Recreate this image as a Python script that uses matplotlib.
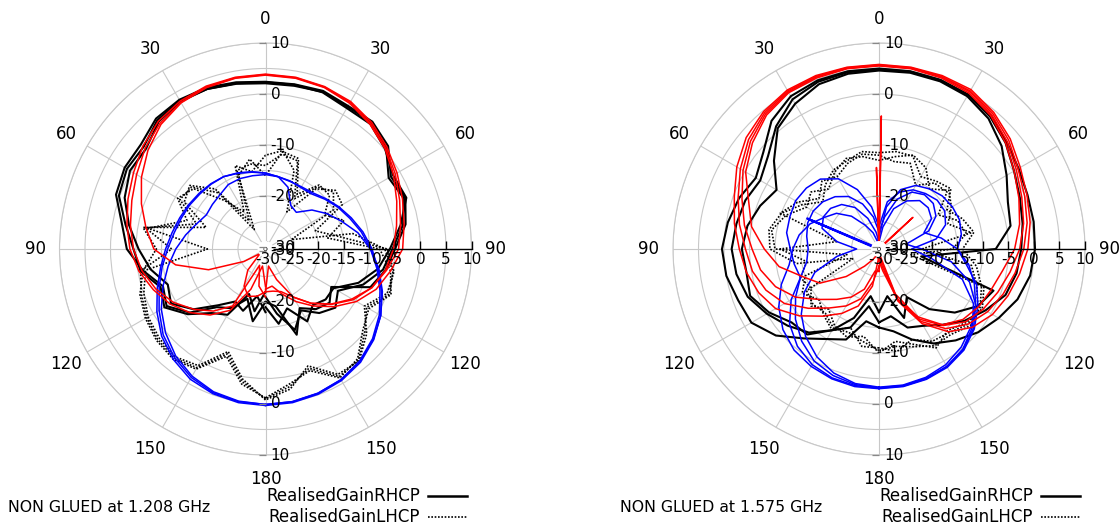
import numpy as np
import matplotlib
matplotlib.use("Agg")
import matplotlib.pyplot as plt
from matplotlib.patches import Circle
from matplotlib.lines import Line2D
from matplotlib.transforms import offset_copy

plt.rcParams['font.family'] = ['DejaVu Sans']

# Elevation angle (deg), negative = left half of the polar plot
ANGLES_DEG = list(range(-180, 181, 10))

# ---------------- 1.208 GHz (gain in dB) ----------------
rhcp_meas_1208_a = [-20, -16, -20, -17, -15.5, -11, -8, -9, -6, -3.2, -1.8, 0.8, 1.5, 1.5, 3.0, 3.4, 3.3, 2.8, 2.4,
                    2.4, 2.6, 2.0, 2.2, 1.0, -2.0, -1.2, -2.5, -5.0, -6.5, -8.5, -15.5, -14, -15, -17, -12.5, -19, -20]
rhcp_meas_1208_b = [-22, -18, -21, -15.5, -14, -10.5, -7.5, -8.5, -5.5, -4.5, -2.5, 0.2, 1.0, 0.8, 2.6, 3.2, 3.0, 2.5, 2.1,
                    2.1, 2.4, 1.8, 2.0, 0.5, -2.5, -1.5, -3.0, -5.5, -7.0, -10.0, -14.0, -12.5, -14.0, -16.5, -13.5, -17.5, -21]
rhcp_meas_1208_c = [-18, -21, -17.5, -18.5, -16, -12, -9, -10, -7.5, -5.5, -3.2, -1.0, 0.3, 0.2, 2.2, 3.0, 3.0, 2.6, 2.3,
                    2.3, 2.3, 1.5, 1.6, 0.2, -1.5, -1.0, -3.5, -6.0, -8.0, -11.0, -15.0, -15.0, -16.0, -14.0, -18.0, -15.5, -19]

lhcp_meas_1208_a = [-1, -4, -8.5, -3.5, -2.5, -2.8, -3.5, -4.5, -5.5, -12, -6.5, -16, -11, -11.5, -16, -26, -14, -13.5, -14,
                    -11.5, -12, -19, -14.5, -13, -15, -25, -13, -7, -5, -4.5, -7.5, -5, -2, -1.5, -5.5, -3, -1]
lhcp_meas_1208_b = [-0.8, -4.5, -9, -4, -2.8, -3.2, -3.8, -5, -6.5, -19, -7, -14, -10.5, -12, -18, -22, -13, -15, -12,
                    -10.8, -14, -22, -15, -12.5, -13, -20, -16, -6.5, -4.8, -5, -8, -4.5, -1.8, -2, -6, -2.5, -0.8]
lhcp_meas_1208_c = [-1.2, -3.5, -8, -3.2, -2.2, -2.5, -3.2, -4.2, -6, -9, -6, -18, -12, -11, -15, -24, -15, -12.5, -16,
                    -11, -11.5, -18, -14, -14, -17, -14, -18, -8, -5.5, -4.2, -7, -5.5, -2.3, -1.2, -5, -3.5, -1.2]

rhcp_sim_1208_a = [-22, -21, -20.5, -22, -25, -29, -25.5, -18.5, -12.5, -8.5, -6.6, -4.5, -2.3, -0.3, 1.5, 2.7, 3.3, 3.6, 3.7,
                   3.6, 3.3, 2.6, 1.5, 0.2, -1.4, -3.0, -4.3, -5.3, -6.5, -8.2, -10.5, -13.5, -16.5, -19.5, -21.5, -22, -22]
rhcp_sim_1208_b = [-21, -23, -27, -17.5, -14.5, -12, -9.5, -7.5, -5.8, -4.5, -3.5, -2.5, -1.2, 0.4, 1.8, 2.8, 3.4, 3.7, 3.8,
                   3.7, 3.4, 2.8, 1.7, 0.4, -1.0, -2.4, -3.5, -4.3, -6.3, -8.2, -10.8, -13.6, -16.5, -19.5, -24, -27, -22]
rhcp_sim_1208_c = [-23, -27, -22, -16.5, -13.5, -11, -8.8, -7.0, -5.2, -3.8, -2.8, -1.7, -0.5, 1.0, 2.3, 3.1, 3.6, 3.8, 3.9,
                   3.8, 3.5, 3.0, 2.0, 0.7, -0.6, -1.8, -2.8, -3.5, -5.5, -7.3, -9.8, -12.8, -15.8, -18.5, -21, -23, -22.5]

lhcp_sim_1208_a = [0.1, 0, -0.4, -1.3, -2.6, -4.2, -6.3, -8.2, -9.8, -11.2, -12.2, -12.8, -13.2, -13.6, -13.8, -14.0, -14.5, -15.0, -15.5,
                   -16.0, -17.5, -20.5, -21.0, -18.5, -16.5, -14.5, -12.0, -9.8, -7.8, -6.0, -4.3, -2.8, -1.6, -0.8, -0.3, 0.0, 0.1]
lhcp_sim_1208_b = [0.3, 0.2, -0.2, -0.9, -2.2, -3.8, -5.8, -7.8, -9.5, -10.8, -11.8, -12.5, -13.0, -13.4, -13.7, -14.0, -14.6, -15.1, -15.5,
                   -16.0, -16.3, -16.3, -16.0, -15.0, -13.8, -12.5, -11.0, -9.5, -8.0, -6.2, -4.3, -2.7, -1.4, -0.6, -0.1, 0.2, 0.3]
lhcp_sim_1208_c = [0.1, -0.1, -0.6, -1.6, -3.0, -4.8, -6.8, -9.0, -11.0, -12.8, -14.5, -16.0, -17.0, -16.8, -16.5, -15.8, -15.7, -15.8, -15.8,
                   -16.0, -16.2, -16.5, -16.3, -15.2, -14.0, -12.8, -11.3, -9.8, -8.2, -6.5, -4.6, -3.0, -1.7, -0.8, -0.3, 0.0, 0.1]

# ---------------- 1.575 GHz (gain in dB) ----------------
rhcp_meas_1575_a = [-15, -16, -11.5, -10, -7.5, -4, -1.5, -1.0, 0, 0.4, -0.3, -1.2, -2.5, -0.8, 2.4, 4.2, 4.8, 5.0, 5.0,
                    5.0, 4.9, 4.6, 3.7, 2.3, 1.2, 0.6, 0.4, 0.2, -0.3, -1.5, -3.3, -5, -7, -9, -11.5, -14, -15]
rhcp_meas_1575_b = [-16, -19, -14, -12, -9, -7, -5, -3, -2, -1.5, -2, -2.5, -3.5, -2, 1, 3.5, 4.5, 4.8, 4.8,
                    4.9, 4.8, 4.5, 3.5, 2.0, 0.2, -1.0, -1.8, -2.5, -3, -4, -6.3, -8.5, -11, -13, -14, -17, -16]
rhcp_meas_1575_c = [-18, -21, -16, -12, -8.5, -8, -5.5, -3.5, -4, -3.5, -4.2, -5.6, -7.2, -3.5, 0.5, 2.5, 4.0, 4.5, 4.6,
                    4.7, 4.6, 4.2, 3.0, 1.0, -1.5, -3.5, -4.2, -7.5, -22, -6.5, -8, -11, -15, -19.5, -16, -21, -18]

lhcp_meas_1575_a = [-10.5, -12, -13, -12.5, -14, -13.5, -14, -25, -14, -9, -8.5, -10, -13, -16, -14, -12.5, -12, -11, -11.5,
                    -11, -11, -14, -13, -12, -15, -13, -11.5, -14, -11, -9, -7.5, -7, -8.5, -8.5, -10, -11, -10.5]
lhcp_meas_1575_b = [-11, -11, -14, -12, -13.5, -15, -13, -15, -24, -10, -9, -11, -14, -13, -15, -13, -11.5, -12, -13,
                    -12, -10.8, -12, -15, -12.5, -14, -16, -12, -22, -12, -10, -8, -7.5, -9, -9.5, -11.5, -10, -11]
lhcp_meas_1575_c = [-10, -13, -12, -13, -15, -13, -15, -14, -16, -11, -22, -9.8, -12, -15, -13, -14, -12.5, -11.5, -12,
                    -13, -12.5, -16, -13.5, -13, -17, -14, -13, -16, -24, -8.5, -7, -8, -9.5, -8, -10.5, -12, -10]

rhcp_sim_1575_a = [-29, -23, -18.5, -15.8, -13.2, -10, -7, -5.3, -4, -3, -1.6, -0.2, 1.8, 3.6, 4.8, 5.6, 5.8, 5.8, 5.8,
                   5.8, 5.8, 5.7, 4.6, 3.2, 1.6, 0.5, -0.3, -1.2, -2.4, -3.5, -4.7, -6.5, -9.2, -13.5, -19.5, -27, -29]
rhcp_sim_1575_b = [-27, -24, -20, -17.5, -15.3, -12.3, -9, -6.8, -5.2, -4.2, -2.6, -1.0, 1.0, 3.0, 4.5, 5.4, 5.6, 5.7, 5.7,
                   5.7, 5.6, 5.4, 4.3, 2.8, 1.1, 0, -0.9, -2.0, -3.3, -4.5, -5.8, -7.5, -10, -14, -20, -28, -27]
rhcp_sim_1575_c = [-26, -26, -22, -19.5, -17.5, -15, -11.5, -8.8, -6.8, -5.5, -3.6, -1.8, 0.4, 2.5, 4.2, 5.2, 5.5, 5.6, 5.6,
                   5.6, 5.5, 5.2, 4.0, 2.4, 0.7, -0.6, -1.6, -2.8, -4.3, -5.6, -6.8, -8.2, -10.8, -14.5, -21, -29, -26]
rhcp_sim_1575_d = [-28, -29, -29, -28, -26, -22, -17, -14.5, -10.5, -7.9, -5.0, -3.2, -0.2, 2.0, 3.9, 5.0, 5.3, 5.5, 5.5,
                   5.5, 5.3, 4.9, 3.7, 2.0, 0.2, -1.2, -2.4, -3.8, -5.8, -7.0, -7.8, -8.9, -11, -15, -20, -26, -28]

lhcp_sim_1575_a = [-3.1, -3.2, -3.5, -4.2, -5.5, -7.5, -10.5, -14, -13.5, -13, -12, -11.8, -11.5, -11.8, -12.5, -14.5, -18, -22, -26,
                   -21, -18.5, -17, -16.2, -15.5, -15.5, -16.5, -19, -24, -20, -13, -9, -6.5, -4.8, -3.8, -3.3, -3.1, -3.1]
lhcp_sim_1575_b = [-3, -3, -3.3, -3.8, -4.5, -5.8, -7.7, -10, -12.5, -13.5, -14.5, -16, -18, -19.5, -22, -25, -27, -29, -28,
                   -22, -18, -16, -15, -14.2, -13.8, -13.6, -14, -15, -13, -10, -8, -6, -4.5, -3.6, -3.2, -3, -3]
lhcp_sim_1575_c = [-3.2, -3.4, -4, -5, -6.8, -9, -11.5, -14, -16, -16.5, -16, -15.5, -15.5, -16, -17, -18.5, -21, -24, -27,
                   -24, -20, -17.5, -16.5, -16.5, -17.5, -20, -25, -22, -16, -11.5, -8.5, -6.2, -4.7, -3.8, -3.4, -3.2, -3.2]
lhcp_sim_1575_d = [-3.3, -3.6, -4.5, -6, -8, -10.5, -13.5, -17, -22, -26, -22, -18.5, -17.8, -18, -19, -21, -24, -27, -29,
                   -26, -22, -19.5, -18, -17.8, -18.5, -21, -18, -15, -12.5, -10.5, -8.5, -6.8, -5.3, -4.2, -3.6, -3.3, -3.3]

# narrow lobes close to broadside at 1.575 GHz
rhcp_sim_1575_spike1_deg = [-0.5, 1.0, 2.0]
rhcp_sim_1575_spike1_val = [-29, -4.3, -29]
rhcp_sim_1575_spike2_deg = [-3.0, -1.8, -0.8]
rhcp_sim_1575_spike2_val = [-29, -14.4, -29]
rhcp_sim_1575_spike3_deg = [43.0, 47.0, 49.0]
rhcp_sim_1575_spike3_val = [-29, -21.3, -29]
lhcp_sim_1575_spike_deg = [-70.0, -67.0, -65.0]
lhcp_sim_1575_spike_val = [-29, -15.1, -29]

RADIAL_LABELS = [10, 0, -10, -20, -30]
AXIS_TICKS = list(range(-30, 11, 5))
ANGLE_LABELS = [0, 30, 60, 90, 120, 150, 180, -30, -60, -90, -120, -150]

FIG_W, FIG_H = 1120, 526
R_MIN, R_MAX, R_ORIGIN = -30, 10, -30.39
RADIUS_PX = 206
GRID = '#c8c8c8'
FS = 11
FS_ANGLE = 12
FS_LEGEND = 12
FS_TITLE = 11.3
RED = '#ff0000'
BLUE = '#0000ff'

fig = plt.figure(figsize=(FIG_W / 100, FIG_H / 100), dpi=100)


def make_polar(cx, cy):
    ax = fig.add_axes([(cx - RADIUS_PX) / FIG_W, (FIG_H - cy - RADIUS_PX) / FIG_H,
                       2 * RADIUS_PX / FIG_W, 2 * RADIUS_PX / FIG_H], projection='polar')
    ax.set_theta_zero_location('N')
    ax.set_theta_direction(-1)
    ax.set_ylim(R_MIN, R_MAX)
    ax.set_rorigin(R_ORIGIN)
    ax.set_xticks(np.deg2rad(np.arange(0, 360, 30)))
    ax.set_xticklabels([''] * 12)
    ax.set_yticks(np.arange(-25, 11, 5))
    ax.set_yticklabels([''] * 8)
    ax.grid(True, color=GRID, lw=0.8)
    ax.spines['polar'].set_color(GRID)
    ax.spines['polar'].set_linewidth(0.8)
    ax.tick_params(length=0)

    for deg in ANGLE_LABELS:
        ax.text(np.deg2rad(deg), 14.8, str(abs(deg)), ha='center', va='center',
                fontsize=FS_ANGLE, clip_on=False)

    # dB scale along the 0/180 line
    right = offset_copy(ax.transData, fig=fig, x=5, y=0, units='dots')
    for theta in (0.0, np.pi):
        for v in RADIAL_LABELS:
            ax.text(theta, v, str(v), transform=right, ha='left', va='center',
                    fontsize=FS, zorder=7, clip_on=False)
            ax.plot([theta], [v], marker=0, ms=5, mew=0.9, color='#888888', zorder=7, clip_on=False)

    # linear dB axis along the 90 deg direction
    ax.plot([np.pi / 2, np.pi / 2], [R_MIN, R_MAX], color='black', lw=1.0, zorder=5, clip_on=False)
    below = offset_copy(ax.transData, fig=fig, x=0, y=-3, units='dots')
    for v in AXIS_TICKS:
        ax.plot([np.pi / 2], [v], marker=2, ms=6, mew=1.0, color='black', zorder=5, clip_on=False)
        ax.text(np.pi / 2, v, str(v), transform=below, ha='center', va='top',
                fontsize=FS, zorder=7, clip_on=False)

    ax.add_patch(Circle((0.5, 0.5), 8 / (2 * RADIUS_PX), transform=ax.transAxes,
                        facecolor='white', edgecolor='none', zorder=6))
    return ax


def draw(ax, series, color, lw, ls='-', zorder=2, angles=ANGLES_DEG):
    th = np.deg2rad(angles)
    for vals in series:
        ax.plot(th, vals, color=color, lw=lw, ls=ls, zorder=zorder,
                solid_joinstyle='round')


DOT = (0, (1.0, 1.0))

ax1 = make_polar(265.5, 249)
draw(ax1, [lhcp_meas_1208_a, lhcp_meas_1208_b, lhcp_meas_1208_c], 'black', 1.2, DOT, 2)
draw(ax1, [rhcp_meas_1208_a, rhcp_meas_1208_b, rhcp_meas_1208_c], 'black', 1.5, '-', 3)
draw(ax1, [lhcp_sim_1208_a, lhcp_sim_1208_b, lhcp_sim_1208_c], BLUE, 1.1, '-', 4)
draw(ax1, [rhcp_sim_1208_a, rhcp_sim_1208_b, rhcp_sim_1208_c], RED, 1.1, '-', 4)

ax2 = make_polar(879, 249)
draw(ax2, [lhcp_meas_1575_a, lhcp_meas_1575_b, lhcp_meas_1575_c], 'black', 1.2, DOT, 2)
draw(ax2, [rhcp_meas_1575_a, rhcp_meas_1575_b, rhcp_meas_1575_c], 'black', 1.5, '-', 3)
draw(ax2, [lhcp_sim_1575_a, lhcp_sim_1575_b, lhcp_sim_1575_c, lhcp_sim_1575_d], BLUE, 1.1, '-', 4)
draw(ax2, [lhcp_sim_1575_spike_val], BLUE, 1.6, '-', 4, angles=lhcp_sim_1575_spike_deg)
draw(ax2, [rhcp_sim_1575_a, rhcp_sim_1575_b, rhcp_sim_1575_c, rhcp_sim_1575_d], RED, 1.1, '-', 4)
draw(ax2, [rhcp_sim_1575_spike1_val], RED, 1.1, '-', 4, angles=rhcp_sim_1575_spike1_deg)
draw(ax2, [rhcp_sim_1575_spike2_val], RED, 1.1, '-', 4, angles=rhcp_sim_1575_spike2_deg)
draw(ax2, [rhcp_sim_1575_spike3_val], RED, 1.1, '-', 4, angles=rhcp_sim_1575_spike3_deg)


def fx(x):
    return x / FIG_W


def fy(y):
    return 1 - y / FIG_H


for title, tx, lx in [("NON GLUED at 1.208 GHz", 8, 420), ("NON GLUED at 1.575 GHz", 620, 1033)]:
    fig.text(fx(tx), fy(508), title, ha='left', va='center', fontsize=FS_TITLE)
    fig.text(fx(lx), fy(496), "RealisedGainRHCP", ha='right', va='center', fontsize=FS_LEGEND)
    fig.text(fx(lx), fy(517), "RealisedGainLHCP", ha='right', va='center', fontsize=FS_LEGEND)
    fig.add_artist(Line2D([fx(lx + 8), fx(lx + 47)], [fy(496), fy(496)], transform=fig.transFigure,
                          color='black', lw=1.8))
    fig.add_artist(Line2D([fx(lx + 8), fx(lx + 47)], [fy(517), fy(517)], transform=fig.transFigure,
                          color='black', lw=1.2, ls=DOT))

fig.savefig('out.png', dpi=100, facecolor='white')
